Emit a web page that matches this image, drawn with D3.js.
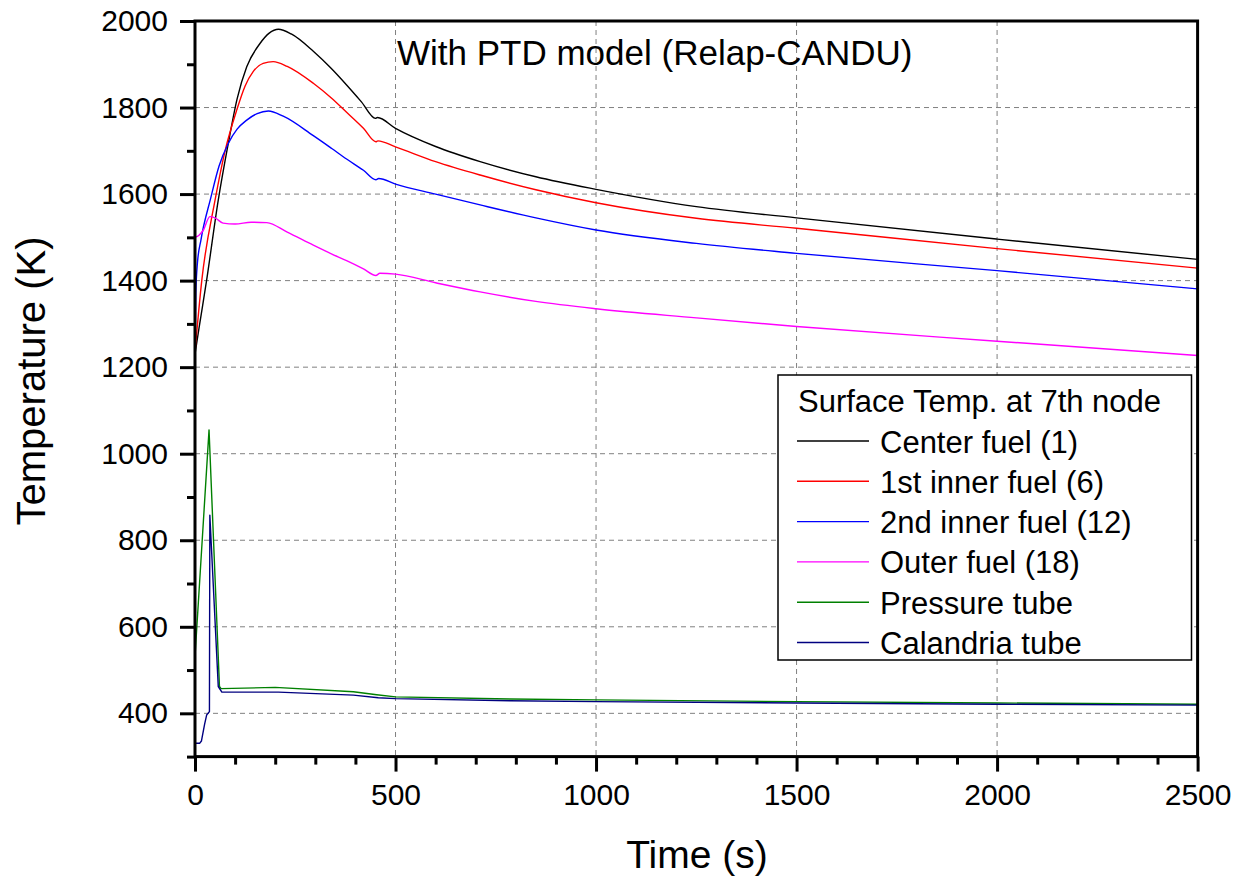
<!DOCTYPE html>
<html><head><meta charset="utf-8">
<script src="https://cdn.jsdelivr.net/npm/d3@7"></script>
<style>
html,body{margin:0;padding:0;background:#fff;}
svg text{font-family:"Liberation Sans",Arial,sans-serif;fill:#000;}
</style></head>
<body>
<svg id="chart" width="1233" height="878"></svg>
<script>
// ---- data ----
const centerT = [0,10,29,58,83,105,129,162,185,208,240,295,340,378,415,450,455,500,600,711,850,1000,1250,1500,2000,2500];
const centerV = [1230,1290,1401,1586,1717,1820,1894,1948,1972,1981,1970,1930,1890,1852,1813,1775,1777,1752,1710,1675,1640,1611,1571,1545,1496,1449];

const inner1T = [0,17,50,75,104,125,145,170,195,230,295,340,378,420,451,456,500,600,711,850,1000,1250,1500,2000,2500];
const inner1V = [1235,1401,1586,1700,1794,1850,1883,1902,1906,1895,1856,1822,1789,1752,1721,1723,1709,1675,1644,1610,1580,1544,1521,1474,1429];

const inner2T = [0,2,6,15,39,60,83,105,129,155,183,220,295,340,378,420,451,458,500,600,711,850,1000,1250,1500,2000,2500];
const inner2V = [1240,1370,1440,1495,1590,1665,1717,1750,1771,1786,1792,1780,1735,1706,1681,1655,1633,1636,1623,1600,1575,1545,1517,1486,1463,1423,1381];

const outerT = [0,10,21,37,50,70,100,140,179,230,295,340,378,420,451,461,500,600,711,850,1000,1250,1500,2000,2500];
const outerV = [1500,1505,1517,1548,1545,1533,1531,1535,1534,1512,1482,1462,1446,1427,1412,1417,1415,1395,1374,1352,1335,1314,1294,1260,1227];

const ptubeT = [0,35,61,65,200,395,453,500,785,1000,1500,2000,2500];
const ptubeV = [531,1055,462,457,460,450,443,438,433,431,427,424,421];

const ctubeT = [0,12,16,24,29,36,37,58,67,208,395,457,500,785,1000,1500,2000,2500];
const ctubeV = [331,331,336,375,396,404,858,462,449,449,442,436,434,429,427,424,421,419];

const seriesNames = ["Center fuel (1)","1st inner fuel (6)","2nd inner fuel (12)","Outer fuel (18)","Pressure tube","Calandria tube"];
const seriesColors = ["#000000","#ff0000","#0000ff","#ff00ff","#008000","#000080"];
const seriesT = [centerT, inner1T, inner2T, outerT, ptubeT, ctubeT];
const seriesV = [centerV, inner1V, inner2V, outerV, ptubeV, ctubeV];
const smoothFlags = [true,true,true,true,false,false];

const xTicks = [0,500,1000,1500,2000,2500];
const yTicks = [400,600,800,1000,1200,1400,1600,1800,2000];
const xMinor = d3.range(0,2501,100);
const yMinor = d3.range(300,2001,100);

const chartTitle = "With PTD model (Relap-CANDU)";
const legendTitle = "Surface Temp. at 7th node";
const xLabel = "Time (s)";
const yLabel = "Temperature (K)";

// ---- layout ----
const svg = d3.select("#chart");
const L = 195, R = 1197.6, T = 21, B = 756.6;
const x = d3.scaleLinear().domain([0,2500]).range([L,R]);
const y = d3.scaleLinear().domain([300,2000]).range([B,T]);

// grid
const grid = svg.append("g").attr("stroke","#808080").attr("stroke-width",1).attr("stroke-dasharray","5,4");
grid.selectAll("line.v").data(xTicks.filter(d=>d>0&&d<2500)).join("line")
  .attr("x1",d=>x(d)).attr("x2",d=>x(d)).attr("y1",T).attr("y2",B);
grid.selectAll("line.h").data(yTicks.filter(d=>d<2000)).join("line")
  .attr("x1",L).attr("x2",R).attr("y1",d=>y(d)).attr("y2",d=>y(d));

// series
svg.append("clipPath").attr("id","clip").append("rect")
  .attr("x",L).attr("y",T).attr("width",R-L).attr("height",B-T);
const lines = svg.append("g").attr("clip-path","url(#clip)");
seriesT.forEach((ts,i)=>{
  const pts = ts.map((t,j)=>[t, seriesV[i][j]]);
  const gen = d3.line().x(d=>x(d[0])).y(d=>y(d[1]))
    .curve(smoothFlags[i] ? d3.curveMonotoneX : d3.curveLinear);
  lines.append("path").datum(pts).attr("d",gen)
    .attr("fill","none").attr("stroke",seriesColors[i]).attr("stroke-width",1.4)
    .attr("stroke-linejoin","round");
});

// axes
const fontSize = 30;
const xAxis = d3.axisBottom(x).tickValues(xTicks).tickSize(15).tickPadding(12).tickFormat(d3.format("d"));
const xAxisMinor = d3.axisBottom(x).tickValues(xMinor.filter(d=>d%500!==0)).tickSize(8).tickFormat("");
const yAxis = d3.axisLeft(y).tickValues(yTicks).tickSize(15).tickPadding(12).tickFormat(d3.format("d"));
const yAxisMinor = d3.axisLeft(y).tickValues(yMinor.filter(d=>d%200!==0)).tickSize(8).tickFormat("");

function styleAxis(g){
  g.select(".domain").remove();
  g.selectAll(".tick line").attr("stroke","#000").attr("stroke-width",3);
  g.selectAll(".tick text").attr("font-size",fontSize).attr("font-family","Liberation Sans, Arial, sans-serif").attr("fill","#000");
}
svg.append("g").attr("transform",`translate(0,${B})`).call(xAxisMinor).call(styleAxis);
svg.append("g").attr("transform",`translate(0,${B})`).call(xAxis).call(styleAxis);
svg.append("g").attr("transform",`translate(${L},0)`).call(yAxisMinor).call(styleAxis);
svg.append("g").attr("transform",`translate(${L},0)`).call(yAxis).call(styleAxis);

// frame
svg.append("rect").attr("x",L).attr("y",T).attr("width",R-L).attr("height",B-T)
  .attr("fill","none").attr("stroke","#000").attr("stroke-width",3);

// titles
svg.append("text").attr("x",397).attr("y",65).attr("font-size",35).text(chartTitle);
svg.append("text").attr("x",697).attr("y",868).attr("text-anchor","middle").attr("font-size",39).text(xLabel);
svg.append("text").attr("transform","translate(45,381) rotate(-90)").attr("text-anchor","middle").attr("font-size",40).text(yLabel);

// legend
const lg = svg.append("g");
lg.append("rect").attr("x",778).attr("y",375).attr("width",413.5).attr("height",285)
  .attr("fill","#fff").attr("stroke","#000").attr("stroke-width",1.5);
lg.append("text").attr("x",798).attr("y",412).attr("font-size",31).text(legendTitle);
seriesNames.forEach((n,i)=>{
  const ly = 441 + i*40.3;
  lg.append("line").attr("x1",797).attr("x2",869).attr("y1",ly).attr("y2",ly)
    .attr("stroke",seriesColors[i]).attr("stroke-width",1.4);
  lg.append("text").attr("x",880).attr("y",ly+11.5).attr("font-size",31).text(n);
});
</script>
</body></html>
